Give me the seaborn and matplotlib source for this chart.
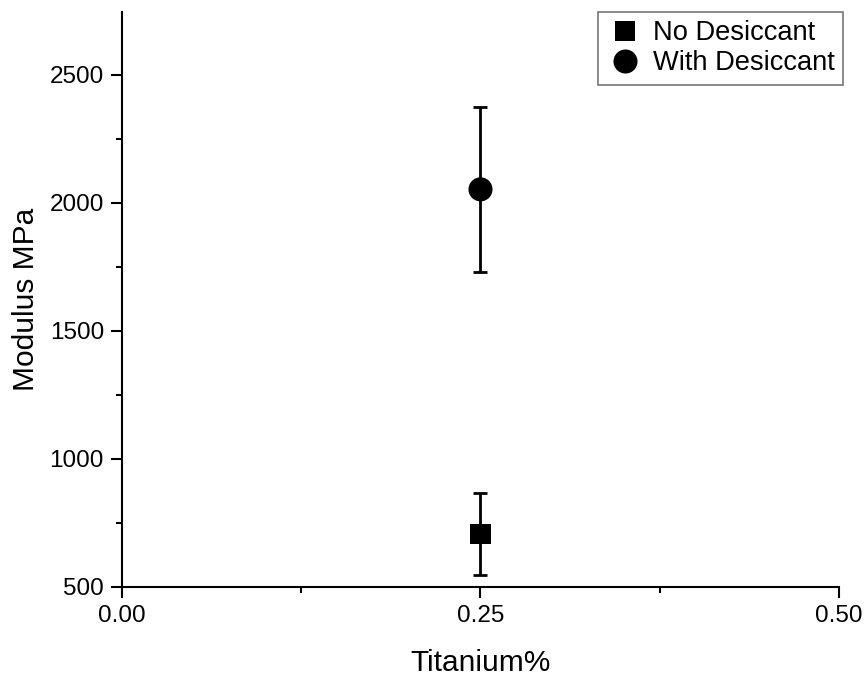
import matplotlib
matplotlib.use("Agg")
import matplotlib.pyplot as plt
import seaborn as sns
import pandas as pd
from matplotlib.ticker import FixedLocator

series = ["No Desiccant", "With Desiccant"]
titanium = [0.25, 0.25]
modulus = [707, 2053]
errors = [160, 321]

sns.set_style("ticks")
plt.rcParams['font.family'] = ['Liberation Sans', 'DejaVu Sans']
plt.rcParams['text.color'] = 'black'
plt.rcParams['axes.labelcolor'] = 'black'
plt.rcParams['xtick.color'] = 'black'
plt.rcParams['ytick.color'] = 'black'

df = pd.DataFrame({"Titanium%": titanium, "Modulus MPa": modulus, "Series": series})

fig = plt.figure(figsize=(8.67, 6.77), dpi=100)
ax = fig.add_axes([0.1407, 0.133, 0.827, 0.849])

ax.errorbar(titanium, modulus, yerr=errors, fmt="none", ecolor="black",
            elinewidth=2, capsize=5, capthick=2, zorder=2)
sns.scatterplot(data=df, x="Titanium%", y="Modulus MPa", hue="Series", style="Series",
                size="Series", sizes={"No Desiccant": 220, "With Desiccant": 300},
                palette=["black", "black"], markers={"No Desiccant": "s", "With Desiccant": "o"},
                edgecolor="black", linewidth=0, ax=ax, zorder=3, legend=True)

ax.set_xlim(0, 0.5)
ax.set_ylim(500, 2745)
ax.xaxis.set_major_locator(FixedLocator([0.0, 0.25, 0.5]))
ax.xaxis.set_minor_locator(FixedLocator([0.125, 0.375]))
ax.yaxis.set_major_locator(FixedLocator([500, 1000, 1500, 2000, 2500]))
ax.yaxis.set_minor_locator(FixedLocator([750, 1250, 1750, 2250]))
ax.set_xticklabels(["0.00", "0.25", "0.50"])
ax.set_yticklabels(["500", "1000", "1500", "2000", "2500"])
ax.tick_params(axis="both", which="major", length=8, width=1.5, labelsize=17.5, pad=5)
ax.tick_params(axis="x", which="major", pad=5)
ax.tick_params(axis="both", which="minor", length=4.5, width=1.5)
for s in ["top", "right"]:
    ax.spines[s].set_visible(False)
for s in ["left", "bottom"]:
    ax.spines[s].set_linewidth(1.5)
    ax.spines[s].set_color("black")

ax.set_xlabel("Titanium%", fontsize=21.5, labelpad=16)
ax.set_ylabel("Modulus MPa", fontsize=21.5, labelpad=7)

h, l = ax.get_legend_handles_labels()
leg = ax.legend(h, l, loc="upper right", bbox_to_anchor=(1.006, 1.0), borderaxespad=0,
                fontsize=19.6, frameon=True, fancybox=False, edgecolor="#777777", framealpha=1,
                handletextpad=0.35, borderpad=0.3, labelspacing=0.15, handlelength=1.4)
leg.get_frame().set_linewidth(1.2)

fig.savefig("out.png", dpi=100)
